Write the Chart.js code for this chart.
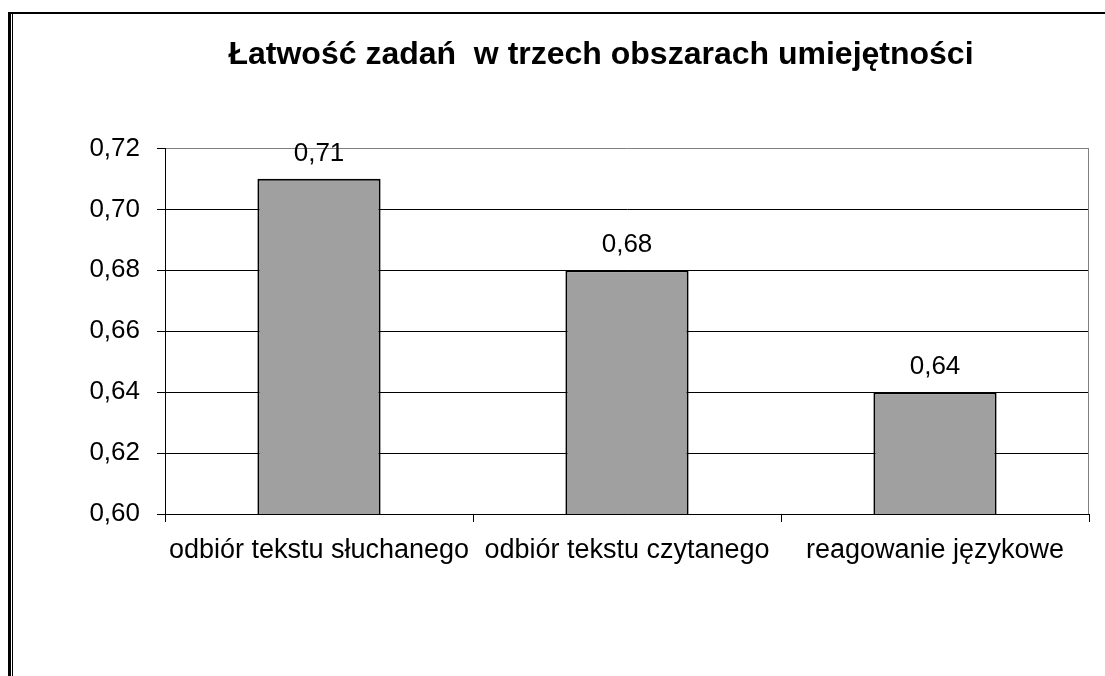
<!DOCTYPE html>
<html>
<head>
<meta charset="utf-8">
<script src="https://cdn.jsdelivr.net/npm/chart.js@4"></script>
<style>
  body { margin: 0; background: #fff; overflow: hidden; }
  #wrap { position: absolute; left: 0; top: 0; width: 1105px; height: 676px; }
  .frame { position: absolute; background: #000; }
</style>
</head>
<body>
<div id="wrap">
  <canvas id="myChart" width="1105" height="676"></canvas>
</div>
<div class="frame" style="left:8px;top:12px;width:3px;height:664px;"></div>
<div class="frame" style="left:12px;top:12px;width:1px;height:664px;"></div>
<div class="frame" style="left:8px;top:12px;width:1097px;height:2px;"></div>
<script>
'use strict';

// chart data
let categories = ['odbiór tekstu słuchanego', 'odbiór tekstu czytanego', 'reagowanie językowe'];
let easiness = [0.71, 0.68, 0.64];
let yTicks = [0.60, 0.62, 0.64, 0.66, 0.68, 0.70, 0.72];
let chartTitle = 'Łatwość zadań  w trzech obszarach umiejętności';

function formatPl(v) {
  return Number(v).toFixed(2).replace('.', ',');
}

Chart.defaults.font.family = '"Liberation Sans", Arial, sans-serif';
Chart.defaults.color = '#000';

// value labels above the bars + grey right edge of the plot
let extras = {
  id: 'extras',
  afterLayout(chart) {
    // centre the title a bit right of the canvas middle, like the original
    let t = chart.titleBlock;
    if (t) {
      t.left = 113;
      t.right = 1089;
      t.width = t.right - t.left;
    }
  },
  afterDatasetsDraw(chart) {
    let ctx = chart.ctx;
    let meta = chart.getDatasetMeta(0);
    ctx.save();
    ctx.font = '26px "Liberation Sans", Arial, sans-serif';
    ctx.fillStyle = '#000';
    ctx.textAlign = 'center';
    ctx.textBaseline = 'middle';
    meta.data.forEach((bar, i) => {
      ctx.fillText(formatPl(easiness[i]), bar.x, bar.y - 25);
    });
    let area = chart.chartArea;
    ctx.strokeStyle = '#808080';
    ctx.lineWidth = 1;
    ctx.beginPath();
    ctx.moveTo(area.right - 0.5, area.top);
    ctx.lineTo(area.right - 0.5, area.bottom);
    ctx.stroke();
    ctx.restore();
  }
};

let chartObject = {
  type: 'bar',
  data: {
    labels: categories,
    datasets: [{
      data: easiness,
      backgroundColor: '#a0a0a0',
      borderColor: '#000',
      borderWidth: 2,
      borderSkipped: false,
      barPercentage: 0.4,
      categoryPercentage: 1
    }]
  },
  options: {
    responsive: false,
    animation: false,
    layout: {
      padding: { left: 30, right: 16, top: 14, bottom: 102 }
    },
    plugins: {
      legend: { display: false },
      tooltip: { enabled: false },
      title: {
        display: true,
        text: chartTitle,
        color: '#000',
        font: { size: 32, weight: 'bold' },
        padding: { top: 22, bottom: 74 }
      }
    },
    scales: {
      x: {
        grid: {
          drawOnChartArea: false,
          drawTicks: true,
          tickLength: 8,
          color: '#000'
        },
        border: { color: '#000', width: 1 },
        ticks: {
          font: { size: 27 },
          color: '#000',
          padding: 12,
          maxRotation: 0,
          autoSkip: false
        },
        afterFit(scale) { scale.height = 60; }
      },
      y: {
        min: yTicks[0],
        max: yTicks[yTicks.length - 1],
        afterBuildTicks(scale) {
          scale.ticks = yTicks.map(v => ({ value: v }));
        },
        grid: {
          color: ctx => (ctx.tick && ctx.tick.value === 0.72 ? '#808080' : '#000'),
          tickColor: '#000',
          tickLength: 8
        },
        border: { color: '#000', width: 1 },
        ticks: {
          font: { size: 26 },
          color: '#000',
          padding: 17,
          callback: v => formatPl(v)
        },
        afterFit(scale) { scale.width = 135; }
      }
    }
  },
  plugins: [extras]
};

let ctx = document.getElementById('myChart').getContext('2d');
let myChart = new Chart(ctx, chartObject);
</script>
</body>
</html>
